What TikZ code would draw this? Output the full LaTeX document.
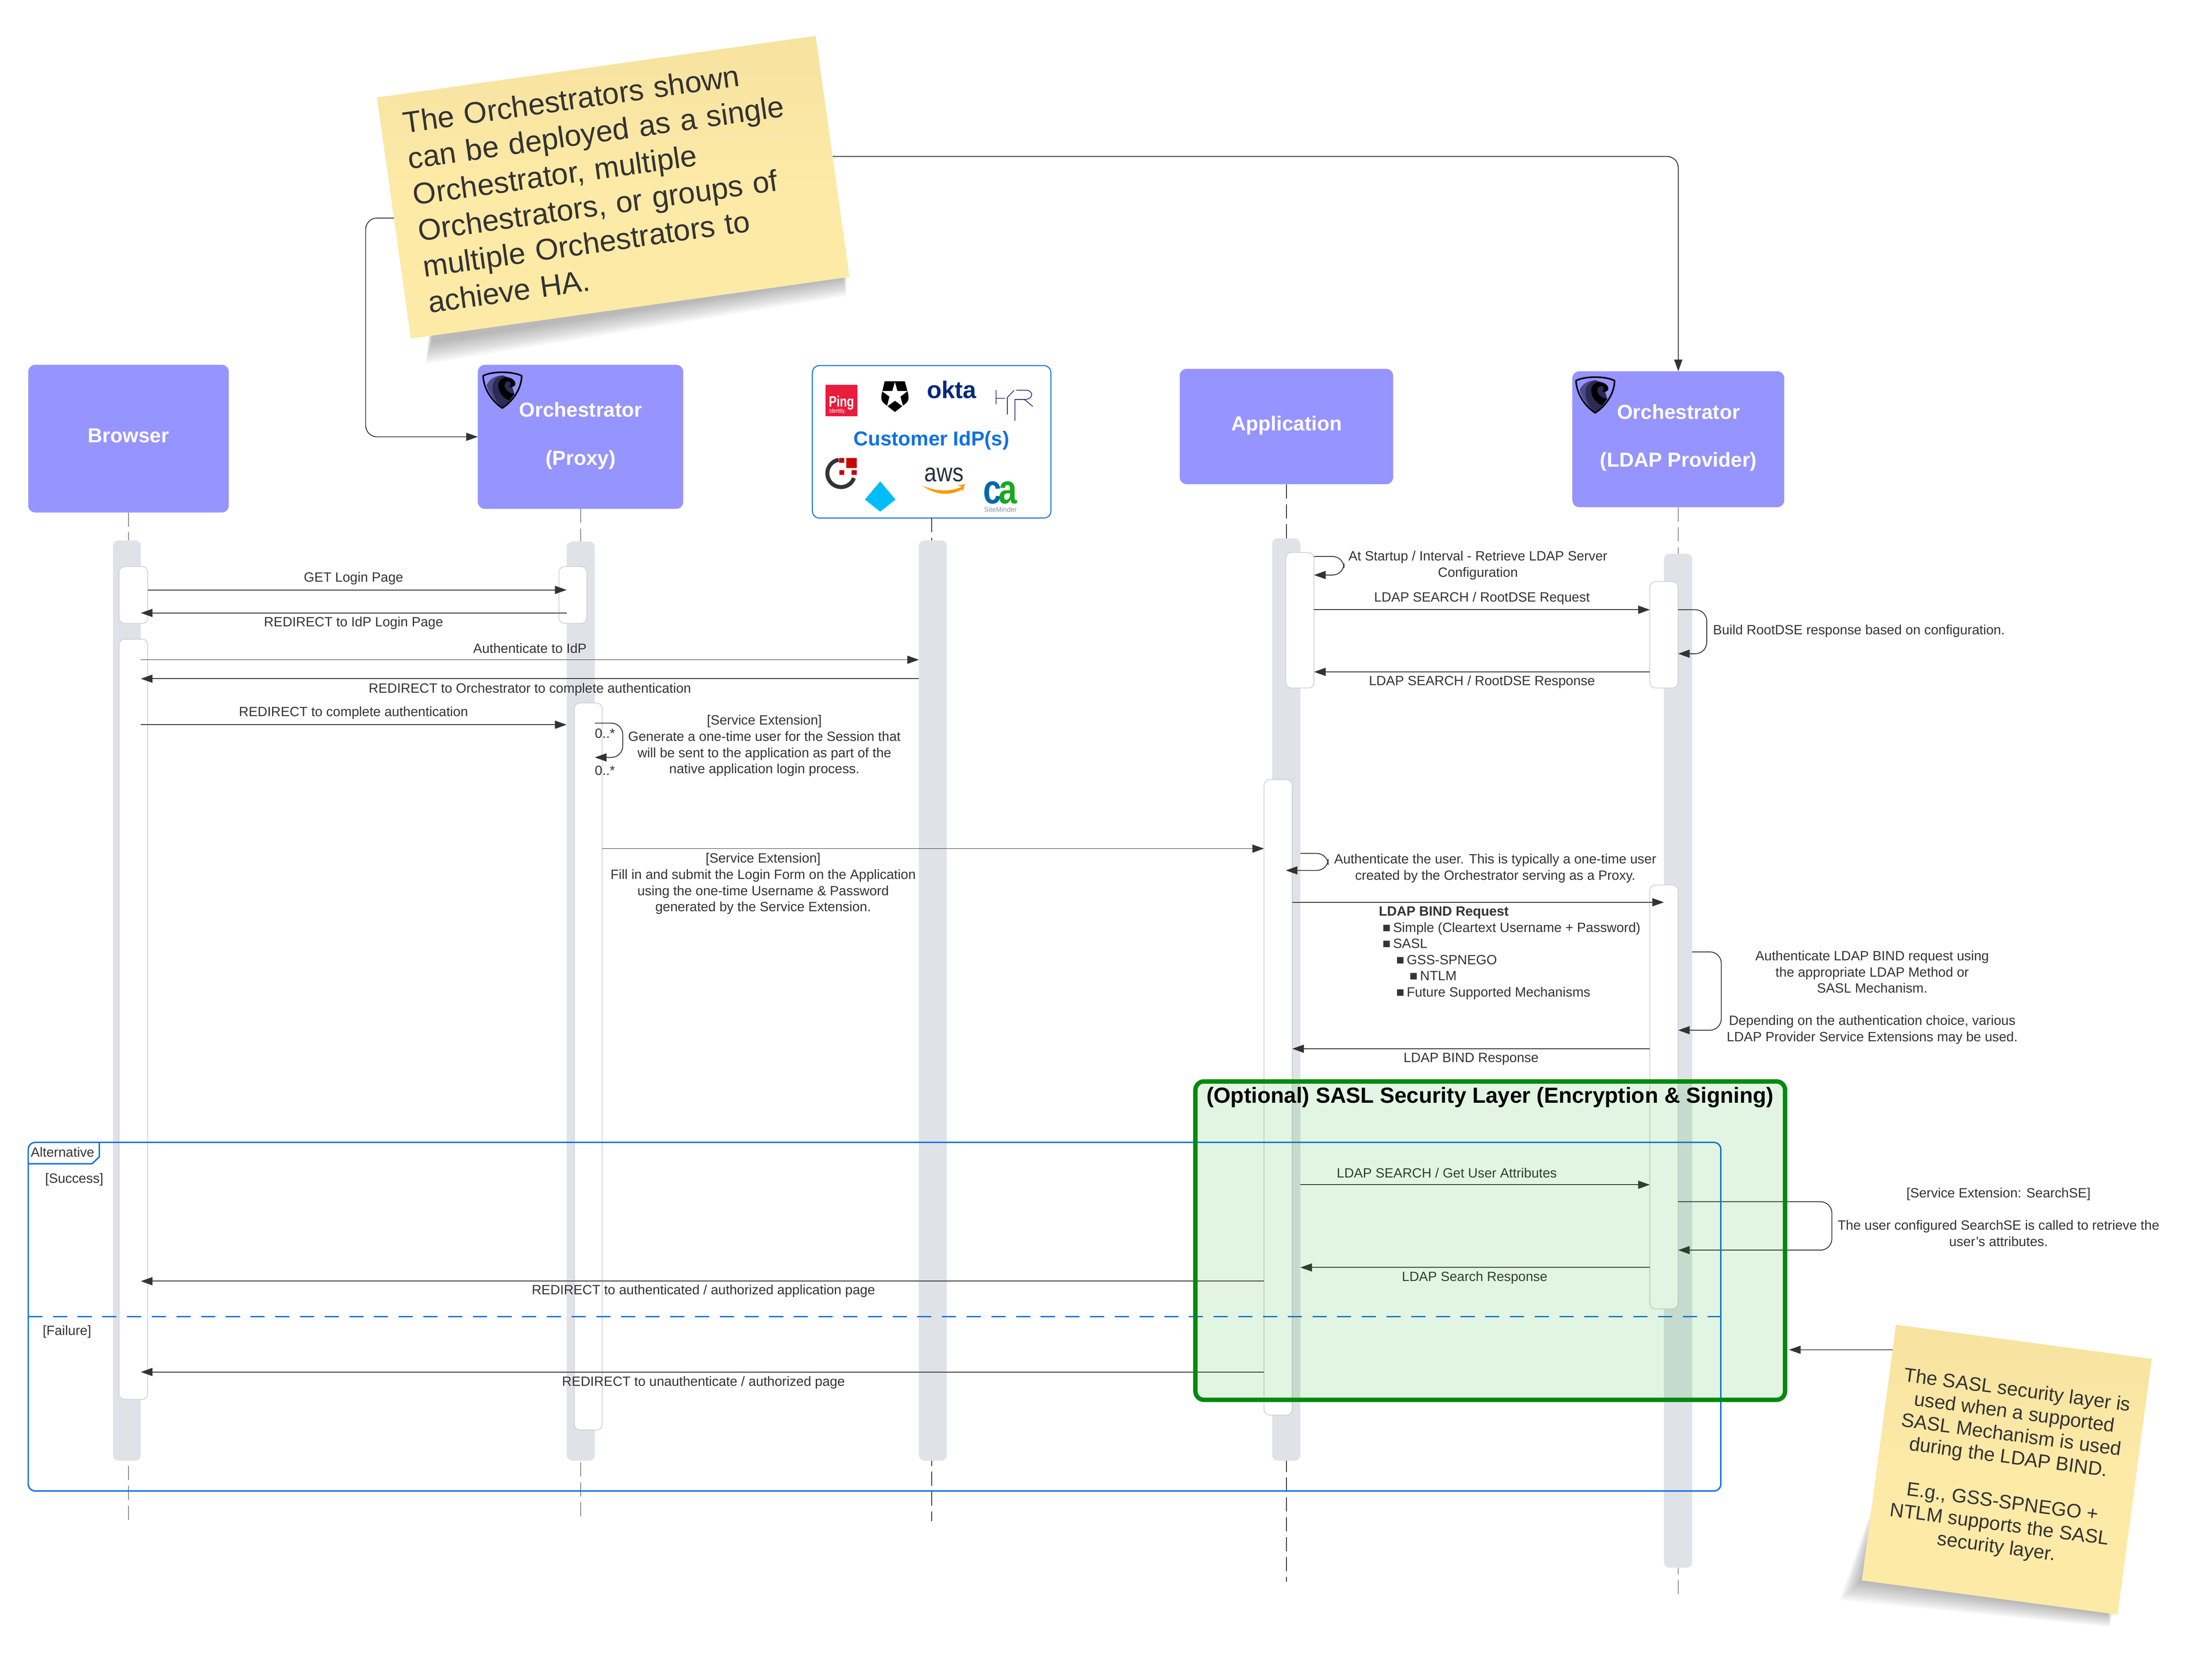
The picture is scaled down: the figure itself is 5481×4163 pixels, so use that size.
\documentclass[tikz,border=0pt]{standalone}
\usepackage{fontspec}
\setmainfont{Liberation Sans}
\usepackage{tikz}
\usetikzlibrary{arrows.meta,positioning,calc,fit}

\definecolor{actorfill}{HTML}{9694FF}
\definecolor{lanegray}{HTML}{DFE3E8}
\definecolor{actborder}{HTML}{CBCDD1}
\definecolor{inktext}{HTML}{333333}
\definecolor{framblue}{HTML}{1071E5}
\definecolor{saslgreen}{HTML}{008A0E}
\definecolor{sasltint}{HTML}{00A500}
\definecolor{notetop}{HTML}{F7E2A0}
\definecolor{notefill}{HTML}{FDEAA7}

\tikzset{
  actorbox/.style={fill=actorfill,draw=none,rounded corners=5pt,inner sep=0pt,outer sep=0pt},
  actortext/.style={text=white,font=\bfseries\fontsize{14.3}{16.9}\selectfont,align=center,inner sep=0pt},
  lanebar/.style={fill=lanegray,draw=none,rounded corners=4pt,inner sep=0pt,outer sep=0pt},
  actbox/.style={fill=white,draw=actborder,line width=0.5pt,rounded corners=4pt,inner sep=0pt,outer sep=0pt},
  lifeline/.style={draw=inktext,line width=0.45pt,dash pattern=on 10pt off 4pt},
  msg/.style={draw=inktext,line width=0.6pt,-{Triangle[length=8.2pt,width=5.7pt]}},
  selfmsg/.style={msg,rounded corners=8pt},
  msglabel/.style={text=inktext,font=\fontsize{9.46}{11.4}\selectfont,align=center,inner sep=0pt,yshift=-0.6pt},
  altline/.style={draw=framblue,line width=1pt},
  notebox/.style={top color=notetop,bottom color=notefill,middle color=notefill,text=inktext,inner sep=0pt,outer sep=0pt},
  shieldlogo/.pic={
    \fill[fill={rgb,255:red,76;green,74;blue,136}] (72,155) .. controls (90,110) and (130,85) .. (190,82) -- (240,100) -- (188,318) .. controls (130,280) and (85,210) .. (72,155) -- cycle;
    \fill[fill={rgb,255:red,45;green,43;blue,85}] (190,82) .. controls (140,95) and (110,130) .. (115,185) .. controls (120,240) and (150,290) .. (188,318) .. controls (215,300) and (250,270) .. (278,220) -- (240,100) -- cycle;
    \fill[black] (215,95) .. controls (260,95) and (290,125) .. (285,150) .. controls (280,170) and (245,175) .. (238,160) .. controls (250,160) and (260,145) .. (245,130) .. controls (225,115) and (200,140) .. (205,165) .. controls (210,195) and (245,215) .. (278,220) -- (238,268) .. controls (190,250) and (155,200) .. (158,150) .. controls (160,120) and (185,100) .. (215,95) -- cycle;
    \draw[black,line width=1.1pt,line join=round] (45,85) .. controls (110,50) and (265,50) .. (332,85) .. controls (330,180) and (270,270) .. (188,325) .. controls (105,270) and (50,180) .. (45,85) -- cycle;
  }
}

\begin{document}
\begin{tikzpicture}[x=0.01cm,y=-0.01cm]
\useasboundingbox (0,0) rectangle (5481,4163);

% Actors
\node[actorbox,fit={(70,904) (567,1270)}] (browser) {};
\node[actorbox,fit={(1184,904) (1693,1261)}] (proxy) {};
\node[fill=white,draw=framblue,line width=0.7pt,rounded corners=5pt,inner sep=0pt,outer sep=0pt,fit={(2013,906) (2604,1284)}] (idp) {};
\node[actorbox,fit={(2923,914) (3452,1200)}] (app) {};
\node[actorbox,fit={(3896,920) (4421,1257)}] (ldap) {};
\node[actortext] (browserText) at (318,1080) {Browser};
\node[actortext] (proxyText) at (1439,1080) {Orchestrator\\[16.9pt](Proxy)};
\node[actortext] (appText) at (3188,1054) {Application};
\node[actortext] (ldapText) at (4159,1085) {Orchestrator\\[16.9pt](LDAP Provider)};
\pic[scale=0.3333] at (1182,903) {shieldlogo};
\pic[scale=0.3333] at (3890,915) {shieldlogo};
\node[text=framblue,font=\bfseries\fontsize{14.2}{16}\selectfont,inner sep=0pt] (idpText) at (2308,1091) {Customer IdP(s)};

% Lifelines
\foreach \nm/\ye in {browser/3770,proxy/3770,idp/3770,app/3920,ldap/3960}
    \draw[lifeline] (\nm.south) -- (\nm.south |- 0,\ye);

% Lane bars
\foreach \nm/\xa/\ya/\xb/\yb in {brBar/280/1339/349/3620,prBar/1404/1342/1474/3620,idBar/2277/1339/2346/3620,apBar/3152/1334/3222/3620,ldBar/4123/1372/4193/3885}
    \node[lanebar,fit={(\xa,\ya) (\xb,\yb)}] (\nm) {};

% Activations
\foreach \nm/\xa/\ya/\xb/\yb in {brA1/295/1404/366/1545,brA2/295/1584/366/3468,prA1/1385/1404/1454/1545,prA2/1423/1742/1492/3544,apA1/3186/1369/3256/1705,apA2/3132/1932/3202/3507,ldA1/4088/1441/4158/1705,ldA2/4088/2193/4158/3244}
    \node[actbox,fit={(\xa,\ya) (\xb,\yb)}] (\nm) {};

% Logos in the IdP box
\fill[fill={rgb,255:red,233;green,28;blue,60}] (2046,954) rectangle (2124,1031);
\node[text=white,font=\bfseries\fontsize{10.5}{11}\selectfont,xscale=0.78,inner sep=0pt] (pingText) at (2085,999) {Ping};
\node[text=white,font=\fontsize{4.2}{5}\selectfont,xscale=0.8,inner sep=0pt] (pingSub) at (2075,1019) {Identity.};
\fill[black] (2192,945) -- (2242,945) -- (2250,975) .. controls (2253,990) and (2250,995) .. (2244,1000) -- (2217.5,1021) -- (2191,1000) .. controls (2185,995) and (2182,990) .. (2185,975) -- cycle;
\fill[white] (2217.5,947) -- (2223.6,969) -- (2249,969) -- (2231,983) -- (2238,1008) -- (2217.5,993) -- (2197.5,1008) -- (2204,983) -- (2185,969) -- (2211,969) -- cycle;
\node[text={rgb,255:red,0;green,41;blue,122},font=\bfseries\fontsize{17}{19}\selectfont,inner sep=0pt] (oktaText) at (2358,966) {okta};
\draw[line width=0.55pt,draw={rgb,255:red,43;green,45;blue,128}] (2468,967) -- (2468,1002) (2468,987) -- (2490,987) (2513,967) -- (2496,985) -- (2496,1027) (2515,1043) -- (2515,990) -- (2538,990) .. controls (2562,990) and (2562,967) .. (2541,967) -- (2518,967) (2538,990) -- (2559,1007);
\draw[line width=2.8pt,draw=inktext] (2084,1173) ++(260:34) arc[start angle=260,end angle=20,radius=34];
\fill[fill={rgb,255:red,201;green,6;blue,6}] (2097,1135) rectangle (2123,1160) (2079,1135) rectangle (2092,1147) (2080,1165) rectangle (2092,1177) (2110,1165) rectangle (2123,1177);
\fill[fill={rgb,255:red,0;green,189;blue,247}] (2181,1193) -- (2219,1238) -- (2181,1268) -- (2143,1238) -- cycle;
\node[text={rgb,255:red,37;green,47;blue,62},font=\fontsize{18}{20}\selectfont,xscale=0.86,inner sep=0pt] (awsText) at (2339,1176) {aws};
\fill[fill={rgb,255:red,255;green,153;blue,0}] (2285,1203) .. controls (2320,1230) and (2360,1228) .. (2387,1211) -- (2384,1206) .. controls (2355,1219) and (2320,1219) .. (2285,1203) -- cycle;
\fill[fill={rgb,255:red,255;green,153;blue,0}] (2372,1203) -- (2391,1200) -- (2385,1218) -- (2383,1206) -- cycle;
\node[text={rgb,255:red,0;green,103;blue,173},font=\bfseries\fontsize{29}{30}\selectfont,xscale=0.8,inner sep=0pt] (caC) at (2459,1221) {c};
\node[text={rgb,255:red,22;green,168;blue,31},font=\bfseries\fontsize{29}{30}\selectfont,xscale=0.8,inner sep=0pt] (caA) at (2497,1221) {a};
\node[text={rgb,255:red,141;green,150;blue,168},font=\fontsize{4.8}{6}\selectfont,inner sep=0pt] (caSub) at (2479,1263) {SiteMinder};

% Messages, browser and proxy
\draw[msg] (brA1.east |- 0,1462) -- (prBar.west |- 0,1462);
\draw[msg] (prBar.west |- 0,1519) -- (brBar.east |- 0,1519);
\draw[msg] (brBar.east |- 0,1635) -- (idBar.west |- 0,1635);
\draw[msg] (idBar.west |- 0,1682) -- (brBar.east |- 0,1682);
\draw[msg] (brBar.east |- 0,1796) -- (prBar.west |- 0,1796);
\draw[selfmsg] (prBar.east |- 0,1792) -- (1543,1792) -- (1543,1877) -- (prBar.east |- 0,1877);
\draw[msg] (prA2.east |- 0,2103) -- (apA2.west |- 0,2103);
\coordinate (apSelfTip) at (3186,2157);
\draw[selfmsg] (apBar.east |- 0,2115) -- (3291,2115) -- (3291,2157) -- (apSelfTip);

% Messages, application and LDAP provider
\draw[selfmsg] (apA1.east |- 0,1379) -- (3330,1379) -- (3330,1425) -- (apA1.east |- 0,1425);
\draw[msg] (apA1.east |- 0,1511) -- (ldA1.west |- 0,1511);
\draw[selfmsg] (ldA1.east |- 0,1511) -- (4229,1511) -- (4229,1620) -- (ldA1.east |- 0,1620);
\draw[msg] (ldA1.west |- 0,1665) -- (apA1.east |- 0,1665);
\draw[msg] (apA2.east |- 0,2236) -- (ldBar.west |- 0,2236);
\draw[selfmsg] (ldBar.east |- 0,2359) -- (4265,2359) -- (4265,2553) -- (ldA2.east |- 0,2553);
\draw[msg] (ldA2.west |- 0,2599) -- (apA2.east |- 0,2599);
\draw[msg] (apBar.east |- 0,2936) -- (ldA2.west |- 0,2936);
\draw[selfmsg] (ldA2.east |- 0,2978) -- (4539,2978) -- (4539,3098) -- (ldA2.east |- 0,3098);
\draw[msg] (ldA2.west |- 0,3141) -- (apBar.east |- 0,3141);
\draw[msg] (apA2.west |- 0,3175) -- (brBar.east |- 0,3175);
\draw[msg] (apA2.west |- 0,3400) -- (brBar.east |- 0,3400);

% Labels
\node[msglabel] (lblGet) at (876,1431) {GET Login Page};
\node[msglabel] (lblIdpPage) at (876,1542) {REDIRECT to IdP Login Page};
\node[msglabel] (lblAuthIdp) at (1313,1604) {Authenticate to IdP};
\node[msglabel] (lblToOrch) at (1313,1706) {REDIRECT to Orchestrator to complete authentication};
\node[msglabel] (lblComplete) at (876,1765) {REDIRECT to complete authentication};
\node[msglabel] (lblManyA) at (1499,1815) {0..*};
\node[msglabel] (lblManyB) at (1499,1907) {0..*};
\node[msglabel] (lblOneTime) at (1894,1846) {[Service Extension]\\Generate a one-time user for the Session that\\will be sent to the application as part of the\\native application login process.};
\node[msglabel] (lblFill) at (1891,2188) {[Service Extension]\\Fill in and submit the Login Form on the Application\\using the one-time Username \& Password\\generated by the Service Extension.};
\node[msglabel] (lblStartup) at (3662,1399) {At Startup / Interval - Retrieve LDAP Server\\Configuration};
\node[msglabel] (lblSearchReq) at (3672,1481) {LDAP SEARCH / RootDSE Request};
\node[msglabel,anchor=west] (lblBuild) at (4244,1562) {Build RootDSE response based on configuration.};
\node[msglabel] (lblSearchResp) at (3672,1688) {LDAP SEARCH / RootDSE Response};
\node[msglabel] (lblAuthUser) at (3705,2150) {Authenticate the user. This is typically a one-time user\\created by the Orchestrator serving as a Proxy.};
\node[msglabel,align=left,anchor=north west] (lblBind) at (3416,2244) {\textbf{LDAP BIND Request}\\
\hspace*{2.6pt}■\hspace{1.7pt}Simple (Cleartext Username + Password)\\
\hspace*{2.6pt}■\hspace{1.7pt}SASL\\
\hspace*{12.2pt}■\hspace{1.7pt}GSS-SPNEGO\\
\hspace*{21.6pt}■\hspace{1.7pt}NTLM\\
\hspace*{12.2pt}■\hspace{1.7pt}Future Supported Mechanisms};
\node[msglabel] (lblBindAuth) at (4639,2470) {Authenticate LDAP BIND request using\\the appropriate LDAP Method or\\SASL Mechanism.\\[11.4pt]Depending on the authentication choice, various\\LDAP Provider Service Extensions may be used.};
\node[msglabel] (lblBindResp) at (3645,2622) {LDAP BIND Response};
\node[msglabel] (lblGetAttr) at (3585,2905) {LDAP SEARCH / Get User Attributes};
\node[msglabel] (lblSearchSE) at (4952,3014) {[Service Extension: SearchSE]\\[11.4pt]The user configured SearchSE is called to retrieve the\\user's attributes.};
\node[msglabel] (lblAttrResp) at (3654,3164) {LDAP Search Response};
\node[msglabel] (lblAuthPage) at (1743,3197) {REDIRECT to authenticated / authorized application page};
\node[msglabel] (lblUnauthPage) at (1743,3424) {REDIRECT to unauthenticate / authorized page};

% Alternative frame
\node[altline,rounded corners=5pt,inner sep=0pt,outer sep=0pt,fit={(70,2831) (4264,3695)}] (altFrame) {};
\draw[altline] (altFrame.west |- 0,2884) -- (228,2884) -- (246,2867) -- (246,2831);
\draw[altline,dash pattern=on 10pt off 7.4pt] (altFrame.west |- 0,3263) -- (altFrame.east |- 0,3263);
\node[msglabel] (altLabel) at (155,2853) {Alternative};
\node[msglabel] (altSuccess) at (184,2921) {[Success]};
\node[msglabel] (altFailure) at (166,3298) {[Failure]};

% SASL layer
\node[draw=saslgreen,line width=3.1pt,fill=sasltint,fill opacity=0.115,draw opacity=1,rounded corners=6pt,inner sep=0pt,outer sep=0pt,fit={(2962,2680) (4423,3469)}] (saslBox) {};
\node[text=black,font=\bfseries\fontsize{15.4}{18}\selectfont,inner sep=0pt] (saslTitle) at (3692,2719) {(Optional) SASL Security Layer (Encryption \& Signing)};

% Note shadows
\foreach \s in {1,...,16}
    \fill[black,opacity=0.018] (1090,600) -- (2060,500) -- (2100-0.25*\s,686+3*\s) -- (1070-\s,847+3.5*\s) -- cycle;
\foreach \s in {1,...,16}
    \fill[black,opacity=0.018] (4680,3620) -- (5200,3800) -- (5235-0.5*\s,4000+2*\s) -- (4613-3.5*\s,3918+3*\s) -- cycle;

% Notes
\node[notebox,rotate=8,minimum height=6.03cm,inner xsep=0.55cm,text width=9.87cm,align=left,font=\fontsize{21.1}{25.6}\selectfont] (noteHa) at (1519.5,464) {The Orchestrators shown\\can be deployed as a single\\Orchestrator, multiple\\Orchestrators, or groups of\\multiple Orchestrators to\\achieve HA.\par\vspace{3.4pt}};
\node[notebox,rotate=-7.6,minimum width=6.39cm,minimum height=6.39cm,align=center,font=\fontsize{13.7}{15.9}\selectfont] (noteSasl) at (4972.5,3642) {The SASL security layer is\\used when a supported\\SASL Mechanism is used\\during the LDAP BIND.\\[15.9pt]E.g., GSS-SPNEGO +\\NTLM supports the SASL\\security layer.};

% Note connectors
\draw[selfmsg] (noteHa.west) -- ++(-70,0) |- (proxy.west);
\draw[selfmsg] (noteHa.east) -| (ldap.north);
\draw[msg,shorten >=2.8pt] ($(noteSasl.north west)!0.098!(noteSasl.south west)$) -- (saslBox.east |- 0,3345);
\end{tikzpicture}
\end{document}
